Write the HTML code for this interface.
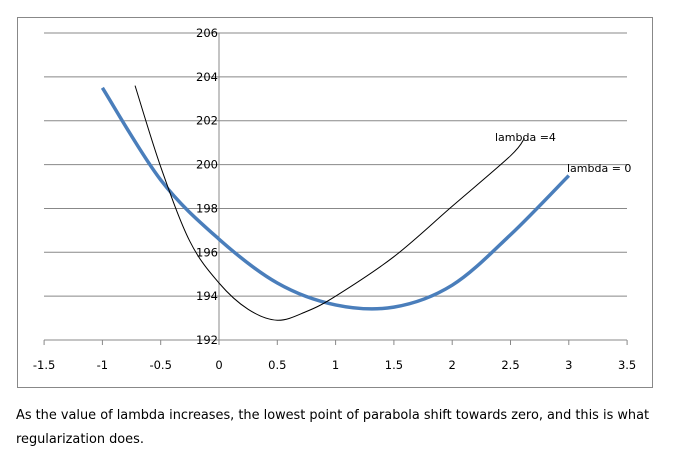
<!DOCTYPE html>
<html><head><meta charset="utf-8"><style>
body{margin:0;background:#fff;width:673px;height:453px;overflow:hidden;font-family:"Liberation Sans",sans-serif}
#cap{position:absolute;left:16px;top:404px;font-family:"DejaVu Sans",sans-serif;font-size:12.9px;line-height:24px;color:#000;width:670px;white-space:nowrap}
</style></head><body>
<svg id="chart" width="673" height="400" style="position:absolute;left:0;top:0" font-family="DejaVu Sans, sans-serif"></svg>
<div id="cap">As the value of lambda increases, the lowest point of parabola shift towards zero, and this is what<br>regularization does.</div>
<script>
const xTicks=[-1.5,-1,-0.5,0,0.5,1,1.5,2,2.5,3,3.5];
const yTicks=[192,194,196,198,200,202,204,206];
const x0=[-1,-0.5,0,0.5,1,1.5,2,2.5,3];
const y0=[203.5,199.3,196.6,194.6,193.6,193.5,194.5,196.8,199.5];
const x4=[-0.72,-0.5,-0.25,0,0.25,0.5,0.75,1,1.5,2,2.5,2.62];
const y4=[203.6,199.9,196.5,194.6,193.4,192.9,193.3,194.0,195.8,198.1,200.4,201.2];
const NS='http://www.w3.org/2000/svg';
const svg=document.getElementById('chart');
const X=v=>219+(v)*116.6, Y=v=>33+(206-v)*21.93;
function mk(t,a,p){const e=document.createElementNS(NS,t);for(const k in a)e.setAttribute(k,a[k]);(p||svg).appendChild(e);return e;}
const frame=mk('rect',{x:17.5,y:17.5,width:635,height:370,fill:'none',stroke:'#888'});


yTicks.forEach(t=>{
 const l=mk('line',{x1:44,x2:627,y1:Y(t),y2:Y(t),stroke:'#888'});
 
 
 const tx=mk('text',{x:X(0)-1,y:Y(t)+4,'text-anchor':'end','font-size':11.5});tx.textContent=t;
 
 
});
const ya=mk('line',{x1:X(0),x2:X(0),y1:Y(206),y2:Y(192),stroke:'#888'});


xTicks.forEach(t=>{
 const l=mk('line',{x1:X(t),x2:X(t),y1:Y(192),y2:Y(192)+5,stroke:'#888'});
 
 
 const tx=mk('text',{x:X(t),y:Y(192)+29,'text-anchor':'middle','font-size':11.5});tx.textContent=t;
 
 
});
function path(xs,ys){const p=xs.map((x,i)=>[X(x),Y(ys[i])]);let d='M'+p[0];for(let i=0;i<p.length-1;i++){const a=p[i-1]||p[i],b=p[i],c=p[i+1],e=p[i+2]||c;d+=' C'+(b[0]+(c[0]-a[0])/6)+','+(b[1]+(c[1]-a[1])/6)+' '+(c[0]-(e[0]-b[0])/6)+','+(c[1]-(e[1]-b[1])/6)+' '+c;}return d;}
const s0=mk('path',{d:path(x0,y0),fill:'none',stroke:'#4a7ebb','stroke-width':3.5});


const s4=mk('path',{d:path(x4,y4),fill:'none',stroke:'#000','stroke-width':1});


const l4=mk('text',{x:495,y:141,'font-size':11});l4.textContent='lambda =4';


const l0=mk('text',{x:567,y:172,'font-size':11});l0.textContent='lambda = 0';


</script>
</body></html>
